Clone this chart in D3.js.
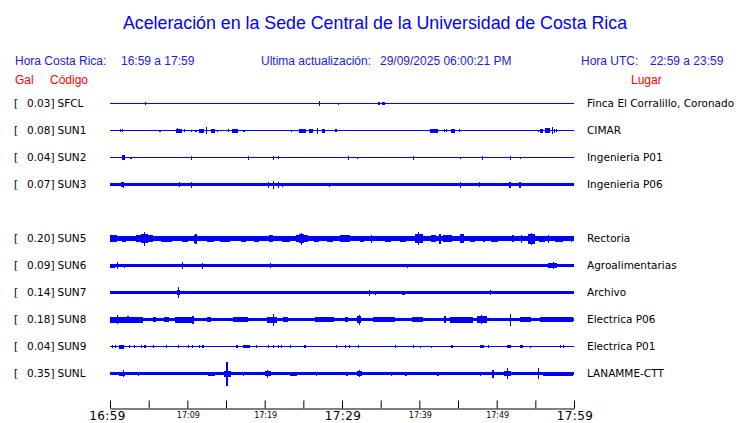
<!DOCTYPE html>
<html><head><meta charset="utf-8">
<script src="https://cdn.jsdelivr.net/npm/d3@7"></script>
<style>
body{margin:0;background:#fff;}
svg{display:block;}
</style></head>
<body>
<svg id="chart" width="740" height="423"></svg>
<script>
// ---------------- DATA ----------------
const titleText = "Aceleración en la Sede Central de la Universidad de Costa Rica";
const localRange = ["16:59", "17:59"];
const utcRange = ["22:59", "23:59"];
const updatedAt = "29/09/2025 06:00:21 PM";

const codes = ["SFCL","SUN1","SUN2","SUN3","SUN4","SUN5","SUN6","SUN7","SUN8","SUN9","SUNL"];
const galPeaks = [0.03,0.08,0.04,0.07,null,0.20,0.09,0.14,0.18,0.04,0.35];
const places = ["Finca El Corralillo, Coronado","CIMAR","Ingenieria P01","Ingenieria P06",null,
                "Rectoria","Agroalimentarias","Archivo","Electrica P06","Electrica P01","LANAMME-CTT"];
// background noise half-amplitude (relative units)
const noiseLevels = [0.5,0.5,0.5,1.5,null,2.2,1.3,1.5,1.9,0.5,1.6];

// bursts: [start minute, end minute, half-amplitude] (minutes after 16:59)
const burstsSFCL = [[4.5,4.65,1.5],[27.0,27.15,2.5],[29.45,29.6,1],[34.6,34.9,1.5],[35.2,35.5,1.5]];
const burstsSUN1 = [[1.25,1.4,1.5],[1.55,1.7,1.5],[6.4,6.55,1],[8.5,9.3,2],[8.7,8.85,2.5],[9.55,9.7,1.5],
  [10.45,10.6,1],[11.05,11.2,1],[11.55,12.15,2],[12.35,12.5,3.5],[13.06,13.58,2],[13.85,14.0,1],
  [15.25,15.4,1.5],[15.8,16.5,2],[17.25,17.4,1],[23.35,23.5,1],[24.4,25.4,2],[25.7,26.3,2],
  [26.75,26.9,3],[27.4,27.8,2],[29.15,29.3,1.5],[41.4,42.4,2],[43.15,43.3,1.5],[43.45,43.6,1.5],
  [44.1,44.6,2],[45.15,45.3,1.5],[55.35,55.5,1],[55.6,56.0,2],[56.2,56.9,2.5],[57.15,57.3,3.5],
  [57.4,57.55,2],[57.7,57.85,1.5]];
const burstsSUN2 = [[1.55,1.9,2.5],[2.65,2.8,1],[10.45,10.6,2],[17.85,18.0,2],[21.05,21.2,2],
  [21.75,21.9,1.5],[30.75,30.95,2],[31.95,32.1,1],[39.15,39.3,2],[45.25,45.4,1],[48.05,48.2,2],
  [51.75,51.9,2],[53.05,53.2,1]];
const burstsSUN3 = [[1.4,1.7,2.5],[1.65,1.8,3],[8.95,9.1,2.5],[10.45,10.6,3],[20.45,20.6,3],
  [21.05,21.2,4],[21.75,21.9,3],[22.25,22.4,2],[28.35,28.5,2],[45.25,45.4,3],[47.75,47.9,2.5],
  [51.65,51.8,3],[52.95,53.1,3]];
const burstsSUN4 = [];
const burstsSUN5 = [[0,0.9,3.5],[1.6,2.1,3],[3.4,5.6,3.2],[4.35,4.5,7],[4.0,4.9,4.2],[6.6,8.0,3],
  [9.3,10.1,3],[10.9,11.3,4],[11.05,11.2,5],[12.5,13.5,3],[14.2,15.5,3],[17.0,17.6,3],
  [18.6,19.3,3],[20.5,21.1,3.8],[22.2,23.3,3],[24.1,25.6,3.6],[24.65,24.8,6],[24.4,25.1,4.6],
  [26.4,27.0,3],[28.0,28.9,3],[29.7,31.0,3.3],[32.3,32.8,3],[33.7,33.9,4],[35.5,36.3,3],
  [37.5,38.3,3],[39.4,40.5,4.2],[39.8,40.0,6.5],[41.5,42.2,3.3],[42.6,42.8,5],[43.0,44.2,3.3],
  [45.2,45.8,4.2],[46.5,47.2,3],[48.2,48.5,3],[49.3,50.2,3],[52.0,52.2,3.5],[53.1,53.3,4],
  [54.1,54.9,5],[54.45,54.6,6],[55.5,56.2,3],[56.6,56.8,4],[57.6,58.6,3],[59.6,59.8,3]];
const burstsSUN6 = [[0,0.6,2],[0.85,1.0,3.5],[1.8,2.0,2],[4.0,4.5,1.8],[9.35,9.5,3.5],
  [11.85,12.0,3],[15.0,15.5,1.8],[20.65,20.8,2.5],[23.45,23.6,1.5],[30.5,31.0,1.8],
  [38.35,38.5,2],[43.0,43.6,1.8],[56.6,57.8,2.5],[57.25,57.4,3.5],[58.5,58.9,1.8]];
const burstsSUN7 = [[0,0.3,1.8],[3.25,3.4,1.8],[8.75,8.9,5.5],[8.6,9.1,2.5],[26.85,27.0,1.8],
  [33.45,33.6,3],[34.25,34.4,2],[37.7,38.1,2],[45.75,45.9,1.5],[49.15,49.3,2.5],[54.85,55.0,1.5],
  [59.35,59.5,1.8]];
const burstsSUN8 = [[0,4.3,3],[0.85,1.0,4.5],[2.2,2.4,3.5],[5.5,5.9,2.5],[7.0,7.6,2.5],
  [8.4,10.8,3],[10.65,10.8,4],[12.6,13.0,2.5],[15.9,17.8,2.5],[20.3,21.6,3],[21.05,21.2,6],
  [22.4,23.0,2.5],[26.5,29.0,2.5],[30.4,30.8,2.5],[31.9,32.5,3.5],[32.15,32.3,5],[34.0,36.8,2.5],
  [39.0,40.5,2.5],[43.25,43.4,3.5],[44.0,47.0,3],[47.4,48.7,3.5],[48.0,48.15,4.5],[51.75,51.9,6],
  [53.0,54.5,2.5],[55.6,59.9,2.5]];
const burstsSUN9 = [[0.25,0.4,1.5],[0.6,0.75,1.5],[1.1,1.8,2],[2.45,2.6,1.5],[3.1,3.25,1.5],
  [4.05,4.2,1.5],[4.45,4.6,1.5],[5.55,5.7,1.5],[7.25,7.4,1.5],[8.75,8.9,1.5],[10.05,10.2,1.5],
  [10.55,10.7,1.5],[11.55,11.7,1.5],[11.95,12.1,1.5],[16.3,16.6,1.5],[17.2,18.1,1.5],
  [18.9,19.05,1.5],[20.45,20.6,1.5],[21.05,21.2,1.5],[21.75,21.9,1.5],[22.15,22.3,1.5],
  [23.25,23.4,1.5],[25.15,25.3,1.5],[29.25,29.4,1.5],[30.35,30.5,1.5],[30.85,31.0,1.5],
  [32.05,32.2,1.5],[36.85,37.0,1.5],[39.15,39.3,1.5],[40.05,40.2,1],[41.55,41.7,1],
  [44.15,44.3,1.5],[47.8,48.3,1.5],[48.85,49.0,1.5],[51.3,51.8,1.5],[53.0,53.4,1.5],
  [54.25,54.4,1],[58.15,58.3,1.5],[58.55,58.7,1.5]];
const burstsSUNL = [[1.2,2.0,2],[1.65,1.8,3.5],[3.65,3.8,2],[6.25,6.4,1.8],[8.4,9.9,1.8],
  [12.7,13.6,2],[14.7,15.6,3],[15.05,15.2,12],[17.15,17.3,2],[18.5,19.4,1.8],[20.1,20.8,2.5],
  [20.25,20.4,4],[23.3,24.2,2],[26.65,26.8,2],[30.5,30.8,2],[31.9,32.6,2.5],[32.15,32.3,3.5],
  [36.3,36.5,2],[38.2,38.4,2],[38.8,40.1,1.8],[42.3,42.5,2],[47.85,48.0,2],[49.45,49.6,4],
  [51.0,51.9,2.5],[51.35,51.5,5.5],[55.35,55.5,5.5],[56.0,59.9,2]];
const bursts = [burstsSFCL,burstsSUN1,burstsSUN2,burstsSUN3,burstsSUN4,burstsSUN5,
                burstsSUN6,burstsSUN7,burstsSUN8,burstsSUN9,burstsSUNL];

const majorTickLabels = ["16:59","17:29","17:59"];
const minorTickLabels = ["17:09","17:19","17:39","17:49"];
const tickStepMinutes = 5;

// ---------------- DRAWING ----------------
const svg = d3.select("#chart");
const blue = "#0000ff", hdrBlue = "#1a1ae6", red = "#ff0000";
const sansH = "'Liberation Sans', Arial, Helvetica, sans-serif";
const sansD = "'DejaVu Sans', sans-serif";

const day = [2025, 8, 29];
const parseHM = s => { const [h, m] = s.split(":").map(Number); return new Date(day[0], day[1], day[2], h, m); };
const t0 = parseHM(localRange[0]), t1 = parseHM(localRange[1]);
const atMin = m => new Date(t0.getTime() + m * 60000);

const x = d3.scaleTime().domain([t0, t1]).range([110, 574]);
const y = d3.scalePoint().domain(codes).range([103, 373]);
const amp = d3.scaleLinear().domain([0, 10]).range([0, 10]);

// Title
svg.append("text").attr("x", 375).attr("y", 29).attr("text-anchor", "middle")
  .attr("font-family", sansH).attr("font-size", 17.8).attr("fill", blue).text(titleText);

// Header row
const hdr = svg.append("g").attr("font-family", sansH).attr("font-size", 12).attr("fill", hdrBlue);
hdr.append("text").attr("x", 15).attr("y", 65).text("Hora Costa Rica:");
hdr.append("text").attr("x", 121).attr("y", 65).text(localRange[0] + " a " + localRange[1]);
hdr.append("text").attr("x", 261).attr("y", 65).text("Ultima actualización:");
hdr.append("text").attr("x", 380).attr("y", 65).text(updatedAt);
hdr.append("text").attr("x", 581).attr("y", 65).text("Hora UTC:");
hdr.append("text").attr("x", 650).attr("y", 65).text(utcRange[0] + " a " + utcRange[1]);

const hdr2 = svg.append("g").attr("font-family", sansH).attr("font-size", 12).attr("fill", red);
hdr2.append("text").attr("x", 15).attr("y", 84).text("Gal");
hdr2.append("text").attr("x", 50).attr("y", 84).text("Código");
hdr2.append("text").attr("x", 631).attr("y", 84).text("Lugar");

// Stations
const rows = codes.map((c, i) => ({ code: c, gal: galPeaks[i], place: places[i], noise: noiseLevels[i], bursts: bursts[i] }))
  .filter(d => d.gal !== null);

const g = svg.append("g").attr("shape-rendering", "crispEdges");
const row = g.selectAll("g.row").data(rows).join("g").attr("class", "row")
  .attr("transform", d => `translate(0,${y(d.code)})`);

// baseline trace
row.append("rect").attr("x", x(t0)).attr("width", x(t1) - x(t0))
  .attr("y", d => 0.5 - Math.max(0.5, amp(d.noise)))
  .attr("height", d => 2 * Math.max(0.5, amp(d.noise)))
  .attr("fill", blue);
// bursts
row.selectAll("rect.b").data(d => d.bursts).join("rect").attr("class", "b")
  .attr("x", b => x(atMin(b[0])))
  .attr("width", b => Math.max(1, x(atMin(b[1])) - x(atMin(b[0]))))
  .attr("y", b => 0.5 - amp(b[2]))
  .attr("height", b => 2 * amp(b[2]))
  .attr("fill", blue);

// left and right labels
const lab = svg.append("g").attr("font-family", sansD).attr("font-size", 10.5).attr("fill", "#000");
const lrow = lab.selectAll("g").data(rows).join("g").attr("transform", d => `translate(0,${y(d.code) + 4})`);
lrow.append("text").attr("x", 14).text("[");
lrow.append("text").attr("x", 27).text(d => d3.format(".2f")(d.gal) + "]");
lrow.append("text").attr("x", 57.5).text(d => d.code);
lrow.append("text").attr("x", 587).text(d => d.place);

// Axis
const tickVals = d3.range(0, 61, tickStepMinutes).map(atMin);
const axis = d3.axisBottom(x).tickValues(tickVals).tickSizeInner(-8).tickSizeOuter(0).tickFormat("");
const ax = svg.append("g").attr("transform", "translate(0,408.5)").call(axis);
ax.select(".domain").attr("stroke", "#000");
ax.selectAll(".tick line").attr("stroke", "#000");

svg.append("g").attr("font-family", sansD).attr("font-size", 12).attr("text-anchor", "middle")
  .attr("letter-spacing", 0.4)
  .selectAll("text").data(majorTickLabels).join("text")
  .attr("x", (d, i) => x(parseHM(d)) + (i === 0 ? -2.5 : 1)).attr("y", 420).text(d => d);
svg.append("g").attr("font-family", sansD).attr("font-size", 8).attr("text-anchor", "middle")
  .selectAll("text").data(minorTickLabels).join("text")
  .attr("x", d => x(parseHM(d)) + 1).attr("y", 418).text(d => d);
</script>
</body></html>
